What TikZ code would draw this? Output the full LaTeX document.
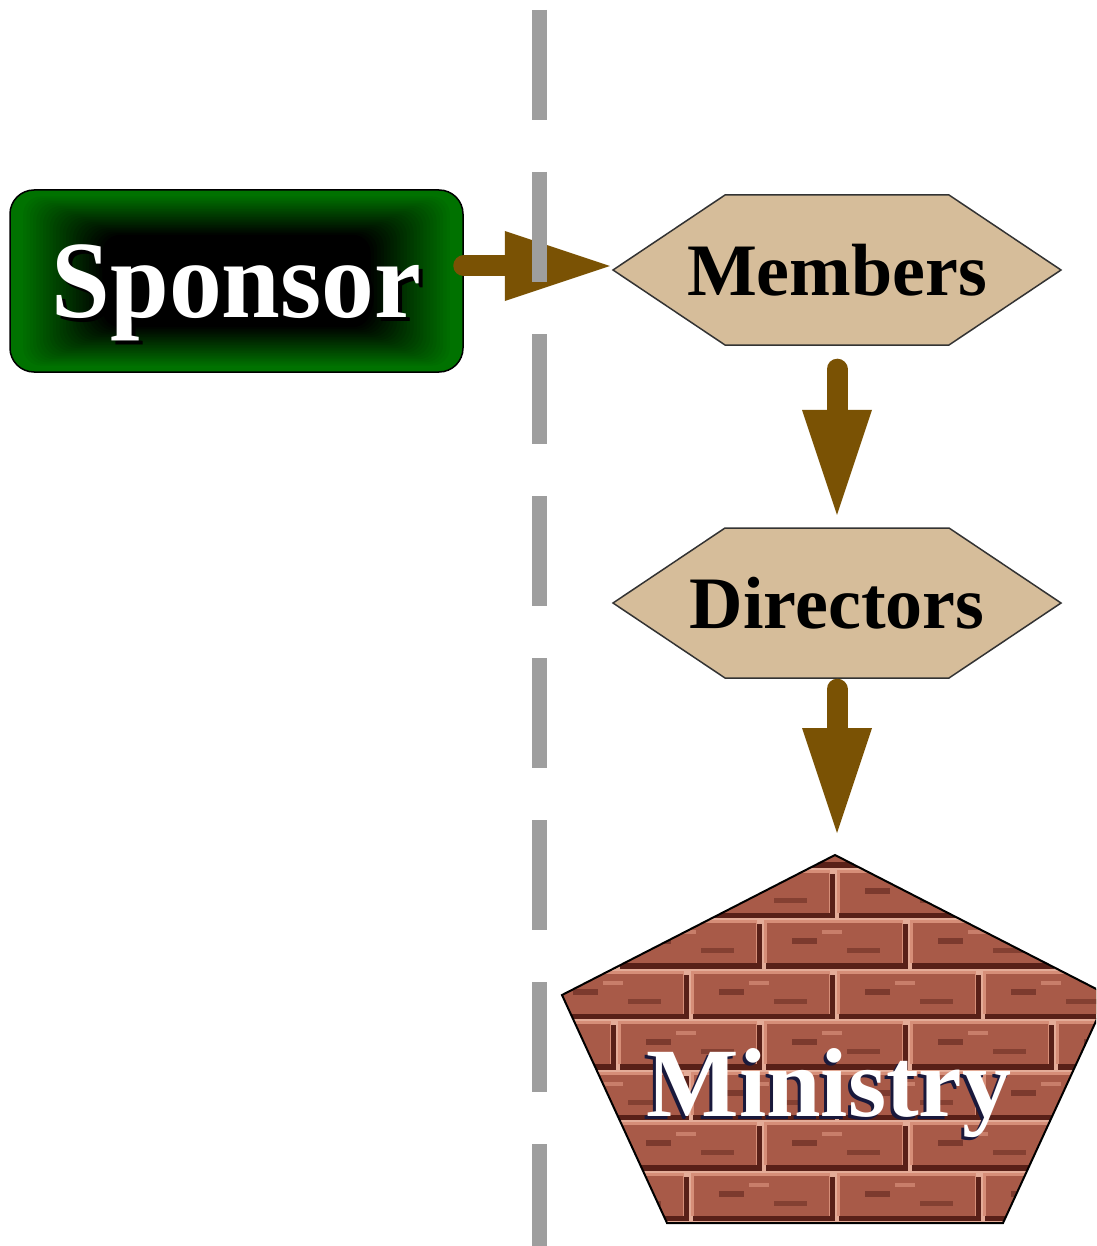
\documentclass[tikz,border=0pt]{standalone}
\usepackage{fontspec}
\setmainfont{Liberation Serif}
\usetikzlibrary{arrows.meta,calc}
\definecolor{sgreen}{RGB}{0,114,0}
\definecolor{abrown}{RGB}{122,82,4}
\definecolor{hextan}{RGB}{214,189,154}
\definecolor{sepgray}{RGB}{158,158,158}
\definecolor{mortar}{RGB}{228,172,152}
\definecolor{bricklt}{RGB}{214,142,120}
\definecolor{brickmid}{RGB}{168,90,72}
\definecolor{brickdk}{RGB}{88,32,24}
\definecolor{minshadow}{RGB}{25,25,60}
\newcommand\shtext[4]{\makebox[0pt][l]{\hspace*{#3}\raisebox{#4}{\color{#2}#1}}#1}
\tikzset{
  spobox/.style={draw=black, line width=1.5pt, rounded corners=24pt, minimum width=453pt,
    minimum height=182pt, inner sep=0pt, text depth=0pt,
    font=\bfseries\fontsize{110}{118}\selectfont},
  hexbox/.style={minimum width=448pt, minimum height=150pt, inner sep=0pt,
    font=\bfseries\fontsize{74}{80}\selectfont},
  hexshape/.style={fill=hextan, draw=black!80, line width=1.5pt, line join=miter},
  pentshape/.style={draw=black, line width=2pt, line join=miter},
  mintext/.style={inner sep=0pt, font=\bfseries\fontsize{98}{104}\selectfont},
  bigarrow/.style={draw=abrown, line width=21pt, line cap=round,
    -{Triangle[length=105pt,width=70pt,line width=0pt,fill=abrown]}},
  sepline/.style={draw=sepgray, line width=15pt, dash pattern=on 110pt off 52pt},
}
\begin{document}
\begin{tikzpicture}[x=1pt,y=-1pt]
\useasboundingbox (0,0) rectangle (1096,1246);
\clip (0,0) rectangle (1096,1246);
\fill[white] (0,0) rectangle (1096,1246);

% --- Sponsor box with inner glow
\coordinate (spoC) at (236.5,281);
\fill[sgreen, rounded corners=24pt] (10,190) rectangle (463,372);
\foreach \i in {1,...,28}{
  \pgfmathtruncatemacro\pct{min(100,max(0,(\i-3)*4))}
  \fill[black!\pct!sgreen, rounded corners=18pt] (10+\i*3.3,190+\i*1.6) rectangle (463-\i*3.3,372-\i*1.6);
}
\node[spobox] (spo) at (spoC) {\scalebox{0.96}[1]{\color{white}\shtext{Sponsor}{black}{4pt}{-4pt}}};

% --- hexagons
\begin{scope}[shift={(837,270)}]
  \path[hexshape] (-224,0) -- (-112,-75) -- (112,-75) -- (224,0) -- (112,75) -- (-112,75) -- cycle;
\end{scope}
\begin{scope}[shift={(837,603)}]
  \path[hexshape] (-224,0) -- (-112,-75) -- (112,-75) -- (224,0) -- (112,75) -- (-112,75) -- cycle;
\end{scope}
\node[hexbox] (mem) at (837,270) {Members};
\node[hexbox] (dir) at (837,603) {Directors};

% --- pentagon with bricks
\coordinate (pentop) at (835,855);
\begin{scope}
  \clip (835,855) -- (1108,995) -- (1003,1223) -- (667,1223) -- (562,995) -- cycle;
  \fill[mortar] (550,840) rectangle (1110,1246);
  \foreach \r in {-2,...,6}{
    \pgfmathsetmacro\yy{918+50.5*\r}
    \pgfmathsetmacro\off{mod(\r+10,2)*73}
    \foreach \c in {0,...,5}{
      \pgfmathsetmacro\xx{470+\off+146*\c}
      \fill[brickdk] (\xx+4,\yy+6) rectangle (\xx+146,\yy+50.5);
      \fill[bricklt] (\xx+2,\yy+2) rectangle (\xx+141,\yy+45);
      \fill[brickmid] (\xx+5,\yy+5) rectangle (\xx+140,\yy+45);
      \fill[brickdk!55!brickmid] (\xx+30,\yy+20) rectangle (\xx+55,\yy+26);
      \fill[brickdk!45!brickmid] (\xx+85,\yy+30) rectangle (\xx+118,\yy+35);
      \fill[bricklt!70!brickmid] (\xx+60,\yy+12) rectangle (\xx+80,\yy+16);
    }
  }
\end{scope}
\path[pentshape] (835,855) -- (1108,995) -- (1003,1223) -- (667,1223) -- (562,995) -- cycle;
\node[mintext, anchor=base] (min) at (829,1116) {\color{white}\shtext{Ministry}{minshadow}{-3pt}{-3pt}};

% --- connectors
\draw[bigarrow, shorten >=3pt] ([yshift=4pt]spo.east |- mem.west) -- ([yshift=4pt]mem.west);
\draw[bigarrow, shorten <=24pt, shorten >=13pt] (mem.south) -- (dir.north);
\draw[bigarrow, shorten <=11pt, shorten >=22pt] (dir.south) -- (dir.south |- pentop);

% --- separator
\coordinate (sepTop) at (539,10);
\coordinate (sepBot) at (539,1246);
\draw[sepline] (sepTop) -- (sepBot);
\end{tikzpicture}
\end{document}
